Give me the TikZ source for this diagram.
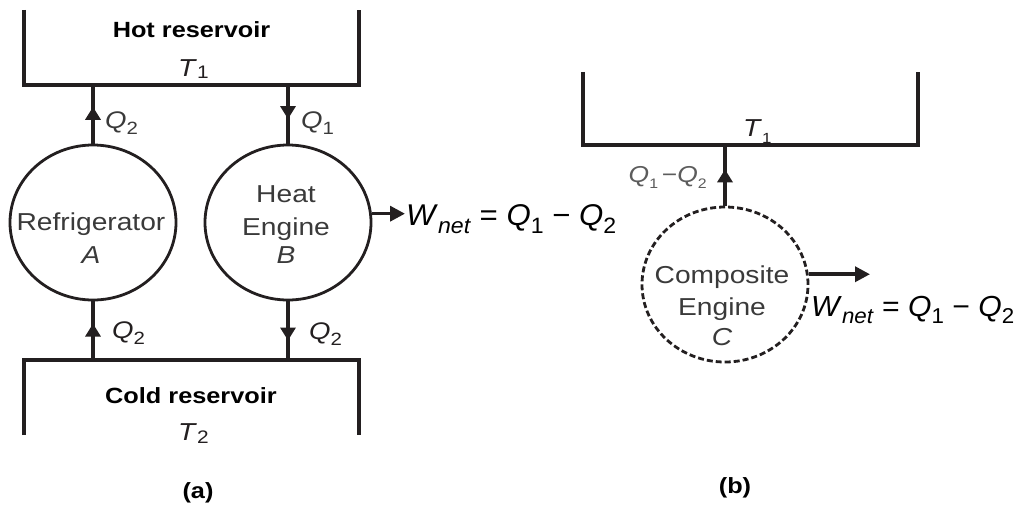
\documentclass[tikz,border=0pt]{standalone}
\usepackage{fontspec}
\usepackage{graphicx}
\setmainfont{Liberation Sans}
\newfontfamily\wide{Liberation Sans}[FakeStretch=1.15]
\newfontfamily\wl{Liberation Sans}[FakeStretch=1.04]
\usetikzlibrary{shapes.geometric,arrows.meta,decorations.markings}
\definecolor{ink}{HTML}{231F20}
\definecolor{txt}{HTML}{3A3A3A}
\definecolor{lt}{HTML}{5C5C5C}
\newcommand\fsz[1]{\fontsize{#1}{#1}\selectfont}
\newcommand\lo[1]{\raisebox{-0.27em}{\scalebox{0.74}{#1}}}
\newcommand\lot[1]{\raisebox{-0.1em}{\scalebox{0.74}{#1}}}
\newcommand\lox[1]{\raisebox{-0.3em}{\scalebox{0.6}{#1}}}
\begin{document}
\begin{tikzpicture}[x=1pt,y=-1pt,
  res/.style={draw=none,rectangle,minimum width=335pt,minimum height=#1,inner sep=0pt},
  resline/.style={draw=ink,line width=4pt,line join=miter},
  engine/.style={ellipse,draw=ink,line width=2.8pt,minimum width=166pt,minimum height=155pt,inner sep=0pt},
  composite/.style={engine,dash pattern=on 6pt off 3pt},
  flow/.style={draw=ink,line width=3.5pt,postaction={decorate},
    decoration={markings,mark=at position #1 with {\arrow{Triangle[length=13pt,width=15pt]}}}},
  work/.style={draw=ink,line width=3.5pt,-{Triangle[length=15pt,width=15pt]}},
  title/.style={font=\wide\fsz{22}\bfseries,text=black,inner sep=0pt,anchor=base},
  elabel/.style={font=\wide\fsz{24.5},text=txt,inner sep=0pt,anchor=base},
  qlabel/.style={font=\wide\fsz{24},text=txt,inner sep=0pt,anchor=base west},
  wlabel/.style={font=\wl\fsz{30},text=black,inner sep=0pt,anchor=base west}
]
\useasboundingbox (0,0) rectangle (1017,504);

% ---------- (a) ----------
\node[res=75pt] (hot) at (191.5,47.5) {};
\draw[resline] (hot.north west) -- (hot.south west) -- (hot.south east) -- (hot.north east);
\node[title] (hottxt) at (191.5,37) {Hot reservoir};
\node[elabel,text=ink,anchor=base west] (hotT) at (178,76) {\textit{T}\lot{1}};

\node[res=75pt] (cold) at (191.5,397.5) {};
\draw[resline] (cold.south west) -- (cold.north west) -- (cold.north east) -- (cold.south east);
\node[title] (coldtxt) at (191,403) {Cold reservoir};
\node[elabel,text=ink,anchor=base west] (coldT) at (178,440) {\textit{T}\raisebox{-0.16em}{\scalebox{0.74}{2}}};

\node[engine] (A) at (93,222.5) {};
\node[elabel] (A1) at (91,230) {Refrigerator};
\node[elabel] (A2) at (91,263) {\textit{A}};

\node[engine] (B) at (288,222.5) {};
\node[elabel] (B1) at (286,202) {Heat};
\node[elabel] (B2) at (286,235) {Engine};
\node[elabel] (B3) at (286,263) {\textit{B}};

\draw[flow=0.63] (A.north) -- (A.north |- hot.south);
\draw[flow=0.58] (B.north |- hot.south) -- (B.north);
\draw[flow=0.62] (A.south |- cold.north) -- (A.south);
\draw[flow=0.67] (B.south) -- (B.south |- cold.north);

\node[qlabel] (qa1) at (105,128) {\textit{Q}\lo{2}};
\node[qlabel] (qa2) at (301,128) {\textit{Q}\lo{1}};
\node[qlabel,text=ink] (qa3) at (112,338) {\textit{Q}\lo{2}};
\node[qlabel,text=ink] (qa4) at (309,339) {\textit{Q}\lo{2}};

\coordinate (wa) at (405,214);
\draw[work] (B.6) -- (B.6 -| wa);
\node[wlabel] (wnA) at (406,225) {\textit{W}\lo{\textit{net}} = \textit{Q}\lo{1} − \textit{Q}\lo{2}};

\node[title] (capa) at (198,498) {(a)};

% ---------- (b) ----------
\node[res=73pt] (hotb) at (750.5,108.5) {};
\draw[resline] (hotb.north west) -- (hotb.south west) -- (hotb.south east) -- (hotb.north east);
\node[elabel,text=ink,anchor=base west] (hotbT) at (743,136) {\textit{T}\lox{1}};

\node[composite] (C) at (725,284.5) {};
\node[elabel] (C1) at (722,283) {Composite};
\node[elabel] (C2) at (722,315) {Engine};
\node[elabel] (C3) at (722,345) {\textit{C}};

\draw[flow=0.6] (C.north) -- (C.north |- hotb.south);
\node[font=\wide\fsz{23},text=lt,inner sep=0pt,anchor=base east] (qb) at (707,182) {\textit{Q}\lox{1}\,−\textit{Q}\lox{2}};

\coordinate (wb) at (870,275);
\draw[work] (C.7) -- (C.7 -| wb);
\node[wlabel,font=\wl\fsz{29}] (wnB) at (811,316) {\textit{W}\lo{\textit{net}} = \textit{Q}\lo{1} − \textit{Q}\lo{2}};

\node[title] (capb) at (735,493) {(b)};
\end{tikzpicture}
\end{document}
